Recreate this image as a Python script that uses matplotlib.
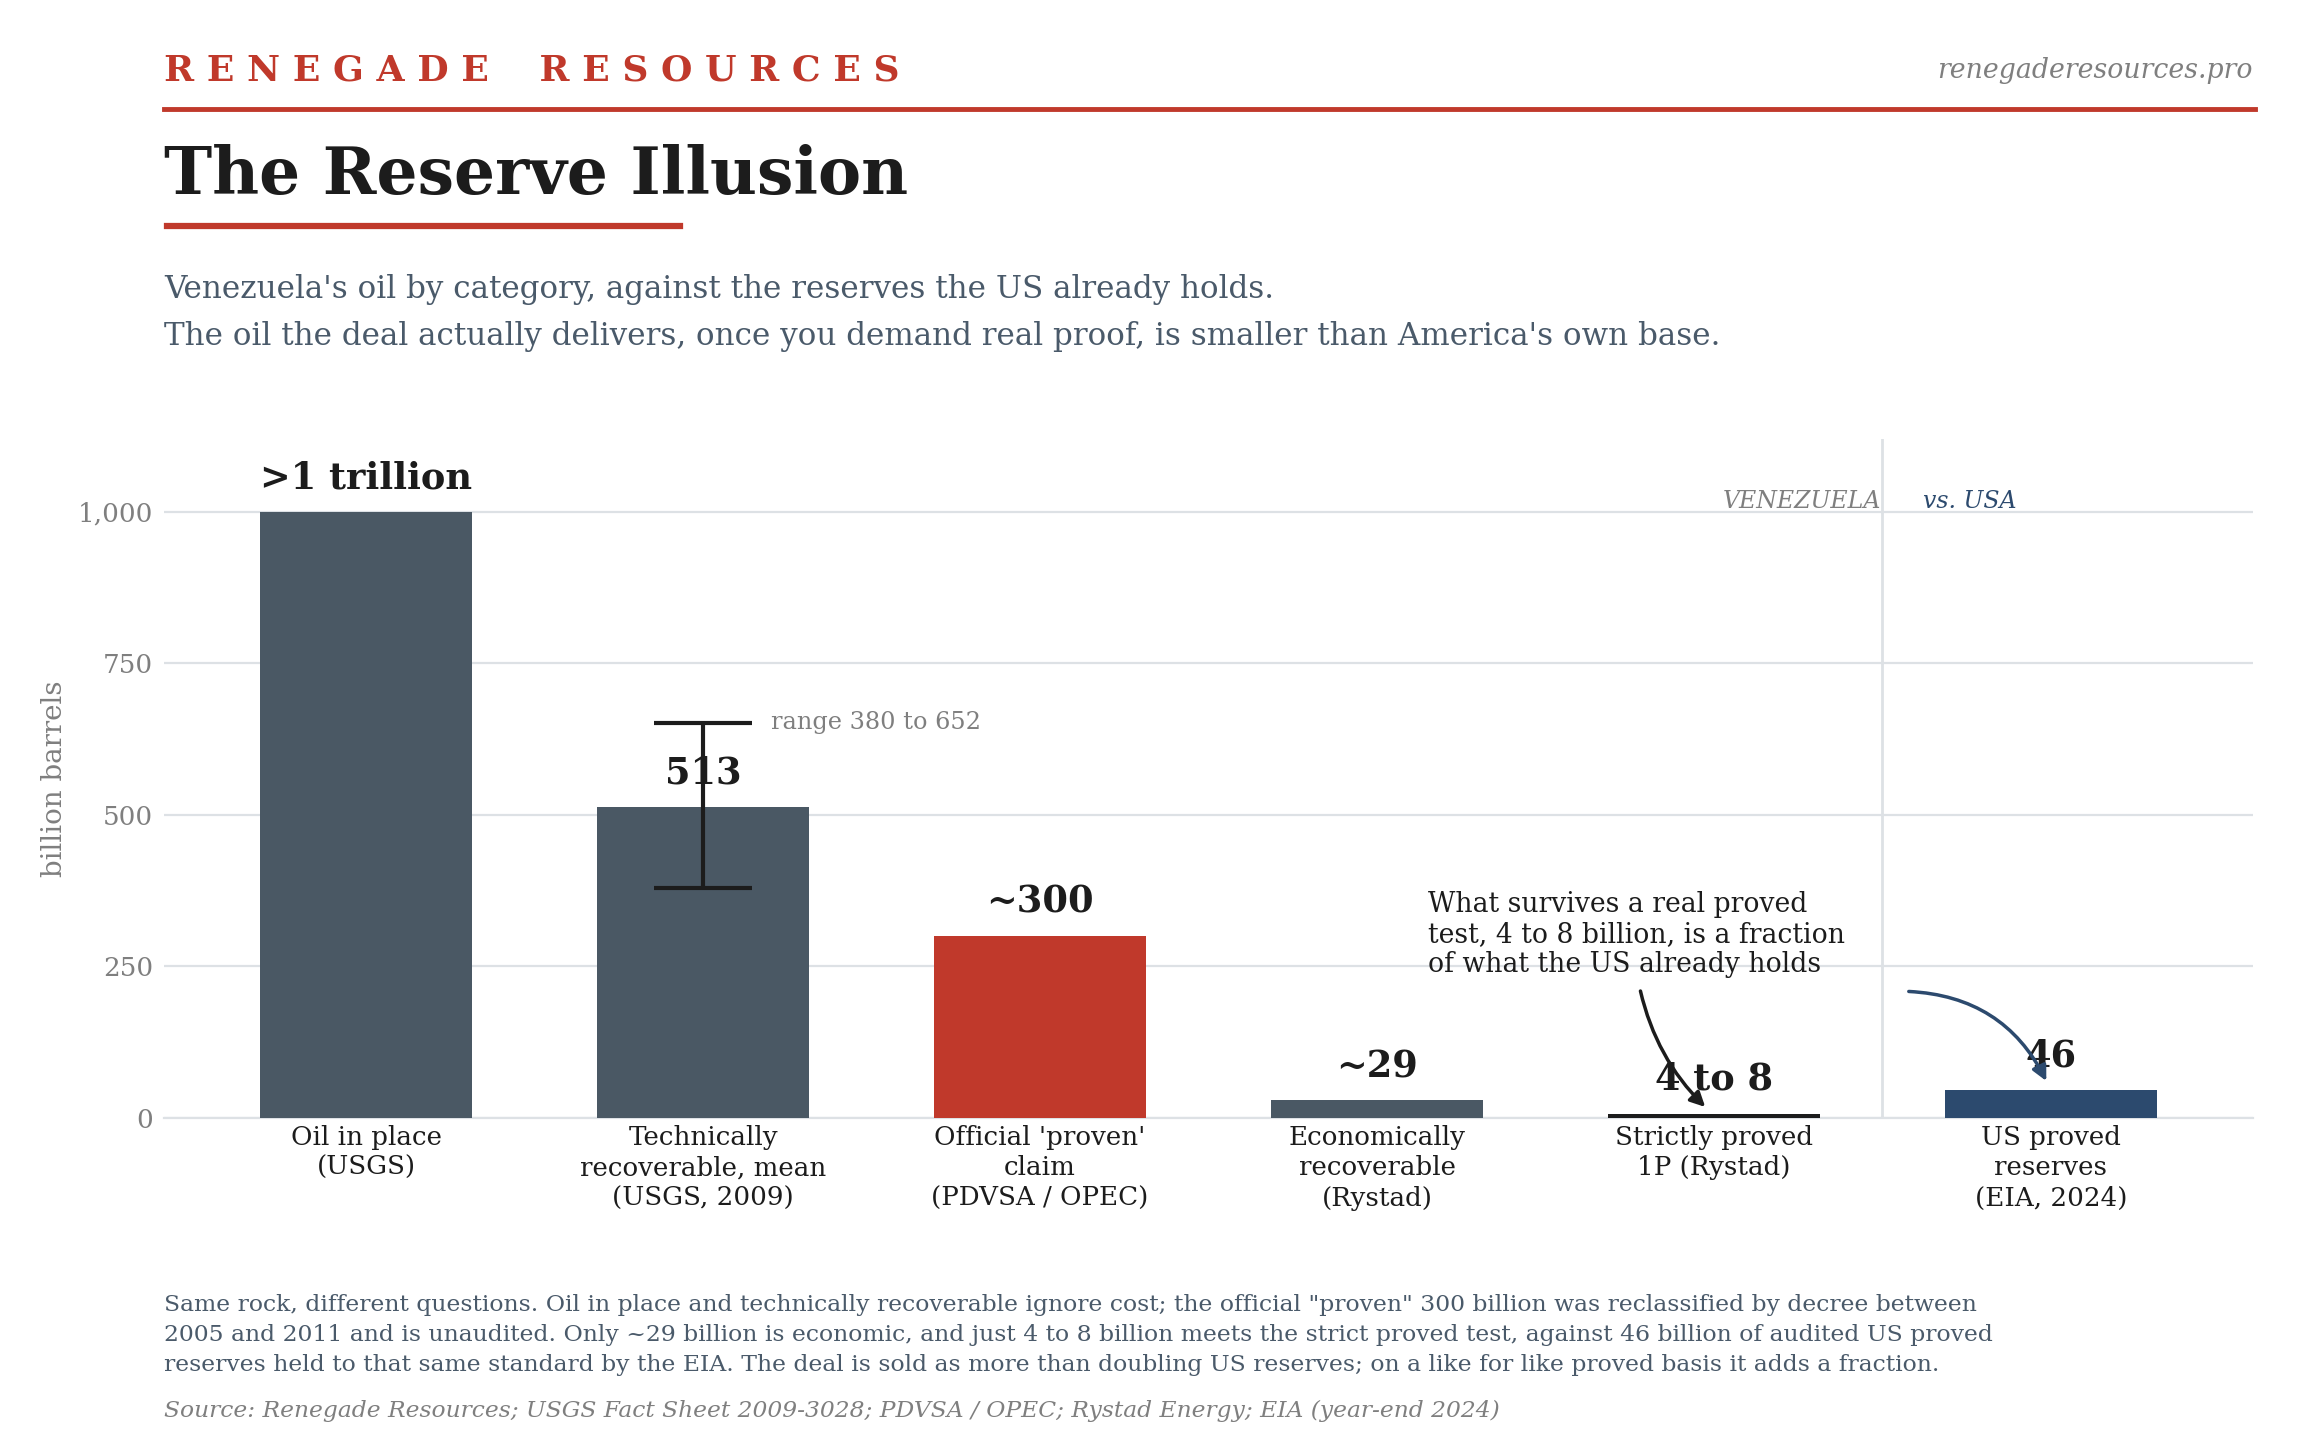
import matplotlib
matplotlib.use("Agg")
import matplotlib.pyplot as plt
import numpy as np

plt.rcParams["font.family"] = "DejaVu Serif"

# data, billion barrels
categories = ["Oil in place\n(USGS)",
              "Technically\nrecoverable, mean\n(USGS, 2009)",
              "Official 'proven'\nclaim\n(PDVSA / OPEC)",
              "Economically\nrecoverable\n(Rystad)",
              "Strictly proved\n1P (Rystad)",
              "US proved\nreserves\n(EIA, 2024)"]
values = [1000, 513, 300, 29, 6, 46]
value_labels = [">1 trillion", "513", "~300", "~29", "4 to 8", "46"]
label_tops = [1000, 513, 300, 29, 8, 46]
trr_low, trr_high = 380, 652
yticks = [0, 250, 500, 750, 1000]

SLATE = "#4a5864"
RED = "#c0392b"
NAVY = "#2c4a6e"
INK = "#1c1c1c"
GRID = "#dde1e5"
GREY = "#7f7f7f"
SUB = "#4a5a6a"
bar_colors = [SLATE, SLATE, RED, SLATE, INK, NAVY]

fig = plt.figure(figsize=(23, 14.4), dpi=100)
fig.patch.set_facecolor("white")

# header
fig.text(0.0713, 0.951, "R E N E G A D E    R E S O U R C E S", color=RED,
         fontsize=26, fontweight="bold", va="center", ha="left")
fig.text(0.9796, 0.951, "renegaderesources.pro", color=GREY, fontsize=19.3,
         style="italic", va="center", ha="right")
fig.add_artist(plt.Line2D([0.0713, 0.9806], [0.9243, 0.9243], color=RED, lw=3.5,
                          transform=fig.transFigure))
fig.text(0.0713, 0.878, "The Reserve Illusion", color=INK, fontsize=46.5,
         fontweight="bold", va="center", ha="left")
fig.add_artist(plt.Line2D([0.0726, 0.2957], [0.843, 0.843], color=RED, lw=4.5,
                          transform=fig.transFigure))
fig.text(0.0713, 0.799, "Venezuela's oil by category, against the reserves the US already holds.",
         color=SUB, fontsize=22.3, va="center", ha="left")
fig.text(0.0713, 0.766, "The oil the deal actually delivers, once you demand real proof, is smaller than America's own base.",
         color=SUB, fontsize=22.3, va="center", ha="left")

ax = fig.add_axes([0.0713, 0.2236, 0.9083, 0.4714])
x = np.arange(len(categories))
ax.bar(x, values, width=0.63, color=bar_colors, zorder=3)
ax.errorbar([1], [values[1]], yerr=[[values[1] - trr_low], [trr_high - values[1]]],
            fmt="none", ecolor=INK, elinewidth=3, capsize=35, capthick=3, zorder=4)
ax.text(1.2, trr_high, "range 380 to 652", color=GREY, fontsize=17.3,
        va="center", ha="left")

for xi, top, lab in zip(x, label_tops, value_labels):
    ax.annotate(lab, (xi, top), xytext=(0, 11), textcoords="offset points",
                ha="center", va="bottom", fontsize=26.5, fontweight="bold",
                color=INK, zorder=5)

ax.set_xlim(-0.6, 5.6)
ax.set_ylim(0, 1120)
ax.set_yticks(yticks)
ax.set_yticklabels([f"{v:,}" for v in yticks])
ax.set_xticks(x)
ax.set_xticklabels(categories, fontsize=18.8, color=INK, linespacing=1.27)
ax.tick_params(axis="y", length=0, labelsize=18.8, labelcolor=GREY, pad=8)
ax.tick_params(axis="x", length=0, pad=5)
ax.set_ylabel("billion barrels", color=GREY, fontsize=20, labelpad=7)
ax.grid(axis="y", color=GRID, lw=1.6, zorder=0)
for s in ["top", "right", "left"]:
    ax.spines[s].set_visible(False)
ax.spines["bottom"].set_color(GRID)
ax.spines["bottom"].set_linewidth(1.6)

# Venezuela / USA split
ax.axvline(4.5, color=GRID, lw=2, zorder=1)
ax.text(4.495, 1017, "VENEZUELA", color=GREY, fontsize=17, style="italic",
        ha="right", va="center")
ax.text(4.62, 1017, "vs. USA", color=NAVY, fontsize=17, style="italic",
        ha="left", va="center")

ax.text(3.15, 375, "What survives a real proved\ntest, 4 to 8 billion, is a fraction\nof what the US already holds",
        color=INK, fontsize=19.2, ha="left", va="top", linespacing=1.15, zorder=5)
ax.annotate("", xy=(3.98, 15), xytext=(3.78, 214),
            arrowprops=dict(arrowstyle="-|>", color=INK, lw=2.5, mutation_scale=22,
                            connectionstyle="arc3,rad=0.15"), zorder=6)
ax.annotate("", xy=(4.99, 57), xytext=(4.57, 209),
            arrowprops=dict(arrowstyle="-|>", color=NAVY, lw=2.5, mutation_scale=22,
                            connectionstyle="arc3,rad=-0.3"), zorder=6)

# footer
fig.text(0.0713, 0.0728,
         "Same rock, different questions. Oil in place and technically recoverable ignore cost; the official \"proven\" 300 billion was reclassified by decree between\n"
         "2005 and 2011 and is unaudited. Only ~29 billion is economic, and just 4 to 8 billion meets the strict proved test, against 46 billion of audited US proved\n"
         "reserves held to that same standard by the EIA. The deal is sold as more than doubling US reserves; on a like for like proved basis it adds a fraction.",
         color=SUB, fontsize=16.9, ha="left", va="center", linespacing=1.48)
fig.text(0.0713, 0.0201, "Source: Renegade Resources; USGS Fact Sheet 2009-3028; PDVSA / OPEC; Rystad Energy; EIA (year-end 2024)",
         color=GREY, fontsize=16.8, style="italic", ha="left", va="center")

fig.savefig("out.png", dpi=100, facecolor="white")
